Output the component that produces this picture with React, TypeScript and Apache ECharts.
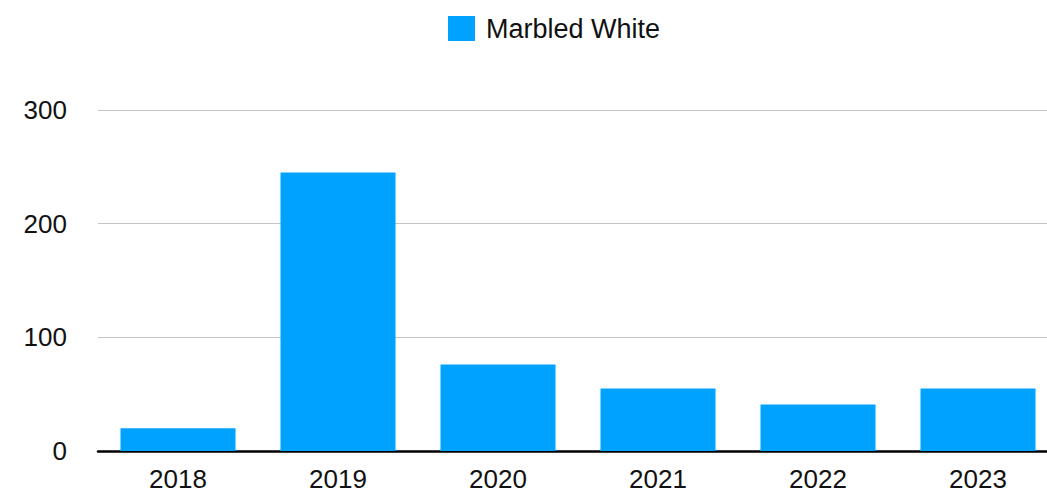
import React, { useEffect, useRef } from "react";
import * as echarts from "echarts";

const categories: string[] = ["2018", "2019", "2020", "2021", "2022", "2023"];
const seriesName = "Marbled White";
const values: number[] = [20, 245, 76, 55, 41, 55];
const yMin = 0;
const yMax = 300;
const yInterval = 100;

const FONT = 'Helvetica, Arial, "Liberation Sans", sans-serif';

export default function App() {
  const ref = useRef<HTMLDivElement>(null);
  useEffect(() => {
    if (!ref.current) return;
    const chart = echarts.init(ref.current, undefined, { renderer: "svg" });
    chart.setOption({
      animation: false,
      textStyle: { fontFamily: FONT },
      legend: {
        data: [seriesName],
        left: 443,
        top: 10,
        itemWidth: 27,
        itemHeight: 25,
        itemGap: 18,
        icon: "rect",
        textStyle: { fontSize: 27, color: "#111", fontFamily: FONT, padding: [0, 0, 0, 6] },
      },
      grid: { left: 98, right: 0, top: 110, bottom: 42, containLabel: false },
      xAxis: {
        type: "category",
        data: categories,
        axisLine: { show: true, lineStyle: { color: "#000", width: 2.5 } },
        axisTick: { show: false },
        axisLabel: { fontSize: 26, lineHeight: 24, color: "#111", margin: 16, fontFamily: FONT },
        splitLine: { show: false },
      },
      yAxis: {
        type: "value",
        min: yMin,
        max: yMax,
        interval: yInterval,
        axisLine: { show: false },
        axisTick: { show: false },
        axisLabel: { fontSize: 26, color: "#111", margin: 31, fontFamily: FONT },
        splitLine: { show: true, lineStyle: { color: "#c4c4c4", width: 1.2 } },
      },
      series: [
        {
          name: seriesName,
          type: "bar",
          data: values,
          barWidth: 115,
          itemStyle: { color: "#00A2FF" },
        },
      ],
    });
    return () => chart.dispose();
  }, []);
  return (
    <div style={{ position: "fixed", left: 0, top: 0, width: 1047, height: 493, overflow: "hidden", background: "#fff" }}>
      <div ref={ref} style={{ width: 1058, height: 493 }} />
    </div>
  );
}
